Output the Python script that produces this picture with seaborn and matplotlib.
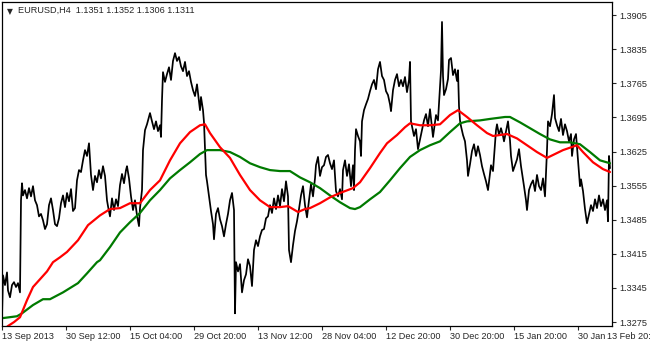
import matplotlib
matplotlib.use("Agg")
import matplotlib.pyplot as plt
import seaborn as sns
import pandas as pd

# ---- data ----
bar_idx = [2, 3, 5, 7, 8, 10, 12, 14, 16, 18, 20, 21, 22, 23, 25, 27, 29, 31, 33, 35, 37, 39, 41, 43, 45, 47, 49, 51, 53, 55, 57, 59, 61, 63, 65, 67, 69, 71, 73, 75, 77, 79, 81, 83, 85, 87, 89, 91, 93, 95, 97, 99, 101, 103,
           105, 107, 108, 110, 112, 114, 116, 118, 120, 122, 124, 126, 127, 129, 131, 133, 135, 137, 139, 140, 142, 143, 145, 147, 150, 152, 154, 156, 158, 160, 161, 162, 163, 165, 167, 169, 171, 173, 175, 177, 179, 181, 183, 185, 187, 189, 191, 193, 195, 197, 199, 200,
           201, 203, 204, 205, 206, 207, 209, 211, 213, 214, 216, 218, 220, 222, 224, 226, 228, 230, 232, 234, 235, 236, 238, 240, 242, 244, 246, 248, 250, 252, 254, 256, 258, 260, 262, 264, 266, 268, 270, 272, 274, 276, 278, 280, 282, 284, 286, 288, 289, 291, 293, 295, 297, 299,
           301, 303, 305, 307, 309, 311, 313, 315, 316, 318, 320, 322, 324, 326, 328, 330, 332, 334, 336, 338, 340, 342, 343, 345, 347, 349, 351, 353, 354, 355, 356, 358, 360, 361, 362, 364, 366, 368, 370, 372, 374, 376, 378, 380, 382, 384, 386, 388, 390, 391, 393, 395, 397, 399,
           401, 403, 405, 407, 409, 410, 411, 412, 414, 416, 418, 420, 422, 424, 426, 428, 430, 432, 433, 436, 438, 440, 441, 442, 443, 444, 446, 448, 449, 451, 453, 455, 457, 458, 459, 460, 461, 463, 465, 467, 468, 470, 472, 474, 476, 478, 480, 482, 484, 486, 488, 490, 491, 493, 496, 497, 499,
           501, 503, 504, 506, 508, 510, 511, 513, 515, 517, 519, 521, 524, 526, 527, 529, 531, 533, 535, 537, 539, 541, 543, 545, 547, 548, 550, 552, 554, 555, 557, 559, 561, 563, 565, 567, 569, 571, 572, 574, 576, 578, 580, 581, 583, 585, 587, 589, 591, 593, 595, 597, 599,
           601, 603, 605, 607, 608, 609, 610]
close = [1.3285, 1.3371, 1.3351, 1.3377, 1.3340, 1.3326, 1.3351, 1.3357, 1.3347, 1.3355, 1.3336, 1.3525, 1.3560, 1.3535, 1.3546, 1.3529, 1.3550, 1.3533, 1.3554, 1.3525, 1.3515, 1.3492, 1.3497, 1.3484, 1.3466, 1.3476, 1.3515, 1.3529, 1.3505, 1.3476, 1.3472, 1.3488, 1.3519, 1.3535, 1.3511, 1.3540, 1.3523, 1.3548, 1.3503, 1.3509, 1.3566, 1.3587, 1.3583, 1.3607, 1.3628, 1.3616, 1.3642, 1.3577, 1.3546, 1.3575, 1.3562, 1.3587, 1.3570, 1.3595,
         1.3575, 1.3525, 1.3513, 1.3492, 1.3529, 1.3505, 1.3527, 1.3513, 1.3556, 1.3579, 1.3560, 1.3587, 1.3595, 1.3570, 1.3533, 1.3505, 1.3525, 1.3494, 1.3472, 1.3509, 1.3546, 1.3628, 1.3669, 1.3681, 1.3704, 1.3687, 1.3671, 1.3687, 1.3667, 1.3679, 1.3655, 1.3731, 1.3788, 1.3768, 1.3784, 1.3798, 1.3772, 1.3811, 1.3827, 1.3811, 1.3819, 1.3800, 1.3790, 1.3809, 1.3780, 1.3790, 1.3768, 1.3751, 1.3739, 1.3763, 1.3728, 1.3710,
         1.3737, 1.3710, 1.3685, 1.3628, 1.3577, 1.3564, 1.3533, 1.3503, 1.3476, 1.3445, 1.3497, 1.3509, 1.3486, 1.3472, 1.3451, 1.3476, 1.3497, 1.3525, 1.3540, 1.3505, 1.3293, 1.3398, 1.3379, 1.3394, 1.3336, 1.3361, 1.3373, 1.3404, 1.3390, 1.3349, 1.3423, 1.3443, 1.3431, 1.3451, 1.3464, 1.3466, 1.3488, 1.3492, 1.3515, 1.3499, 1.3529, 1.3507, 1.3535, 1.3513, 1.3548, 1.3523, 1.3564, 1.3533, 1.3423, 1.3398, 1.3433, 1.3462, 1.3482, 1.3507,
         1.3535, 1.3554, 1.3515, 1.3490, 1.3525, 1.3558, 1.3533, 1.3570, 1.3597, 1.3614, 1.3575, 1.3593, 1.3597, 1.3614, 1.3618, 1.3601, 1.3589, 1.3607, 1.3544, 1.3533, 1.3548, 1.3527, 1.3587, 1.3607, 1.3575, 1.3599, 1.3554, 1.3597, 1.3546, 1.3628, 1.3671, 1.3657, 1.3646, 1.3616, 1.3687, 1.3710, 1.3722, 1.3733, 1.3749, 1.3763, 1.3772, 1.3753, 1.3794, 1.3809, 1.3780, 1.3772, 1.3749, 1.3741, 1.3722, 1.3708, 1.3751, 1.3772, 1.3784, 1.3759,
         1.3772, 1.3759, 1.3778, 1.3747, 1.3772, 1.3809, 1.3687, 1.3677, 1.3657, 1.3671, 1.3630, 1.3650, 1.3671, 1.3689, 1.3702, 1.3677, 1.3712, 1.3673, 1.3655, 1.3700, 1.3689, 1.3759, 1.3792, 1.3891, 1.3780, 1.3741, 1.3753, 1.3774, 1.3813, 1.3817, 1.3782, 1.3794, 1.3770, 1.3792, 1.3718, 1.3689, 1.3677, 1.3659, 1.3646, 1.3607, 1.3575, 1.3599, 1.3626, 1.3640, 1.3616, 1.3636, 1.3618, 1.3595, 1.3579, 1.3564, 1.3546, 1.3579, 1.3597, 1.3585, 1.3669, 1.3681, 1.3659,
         1.3673, 1.3657, 1.3646, 1.3667, 1.3687, 1.3648, 1.3616, 1.3585, 1.3597, 1.3609, 1.3630, 1.3595, 1.3554, 1.3525, 1.3505, 1.3546, 1.3558, 1.3566, 1.3544, 1.3577, 1.3554, 1.3546, 1.3570, 1.3533, 1.3628, 1.3687, 1.3677, 1.3702, 1.3741, 1.3694, 1.3679, 1.3667, 1.3692, 1.3659, 1.3681, 1.3667, 1.3646, 1.3661, 1.3616, 1.3650, 1.3661, 1.3607, 1.3554, 1.3568, 1.3544, 1.3507, 1.3478, 1.3497, 1.3515, 1.3503, 1.3527, 1.3509, 1.3535,
         1.3513, 1.3527, 1.3505, 1.3525, 1.3482, 1.3616, 1.3591]

red_idx = [2, 8, 14, 20, 27, 33, 40, 47, 53, 60, 67, 78, 88, 100, 110, 120, 130, 140, 150, 160, 170, 180, 190, 200, 205, 210, 220, 230, 240, 250, 260, 270, 280, 288, 298, 305, 310, 320, 330, 340, 353, 360, 370, 380, 387, 397, 405, 410, 420, 430, 440, 450, 458, 467, 477, 487, 493, 500, 507, 517, 527, 537, 547, 553, 563, 577, 583, 593, 603, 610]
red_ma = [1.3256, 1.3267, 1.3275, 1.3285, 1.3320, 1.3347, 1.3363, 1.3379, 1.3398, 1.3408, 1.3419, 1.3443, 1.3474, 1.3494, 1.3507, 1.3509, 1.3519, 1.3519, 1.3546, 1.3566, 1.3607, 1.3642, 1.3665, 1.3679, 1.3681, 1.3663, 1.3634, 1.3612, 1.3577, 1.3546, 1.3525, 1.3511, 1.3511, 1.3513, 1.3501, 1.3507, 1.3509, 1.3519, 1.3531, 1.3540, 1.3550, 1.3562, 1.3591, 1.3622, 1.3642, 1.3659, 1.3675, 1.3683, 1.3679, 1.3679, 1.3681, 1.3700, 1.3710, 1.3696, 1.3679, 1.3663, 1.3657, 1.3659, 1.3661, 1.3652, 1.3638, 1.3624, 1.3612, 1.3618, 1.3628, 1.3638, 1.3624, 1.3603, 1.3589, 1.3583]

green_idx = [2, 17, 22, 33, 43, 50, 63, 78, 87, 97, 100, 110, 120, 130, 140, 150, 160, 170, 180, 190, 200, 207, 220, 230, 240, 250, 260, 270, 280, 290, 300, 310, 320, 330, 340, 350, 355, 360, 370, 380, 390, 400, 410, 420, 430, 440, 450, 460, 467, 480, 490, 505, 510, 520, 530, 540, 550, 560, 570, 580, 590, 600, 610]
green_ma = [1.3283, 1.3287, 1.3293, 1.3310, 1.3322, 1.3322, 1.3336, 1.3355, 1.3375, 1.3398, 1.3402, 1.3429, 1.3459, 1.3480, 1.3499, 1.3525, 1.3546, 1.3570, 1.3587, 1.3603, 1.3620, 1.3628, 1.3628, 1.3624, 1.3614, 1.3601, 1.3593, 1.3587, 1.3585, 1.3585, 1.3572, 1.3562, 1.3550, 1.3535, 1.3521, 1.3509, 1.3507, 1.3511, 1.3527, 1.3542, 1.3566, 1.3591, 1.3614, 1.3628, 1.3638, 1.3646, 1.3665, 1.3683, 1.3687, 1.3689, 1.3692, 1.3696, 1.3696, 1.3685, 1.3673, 1.3661, 1.3650, 1.3644, 1.3644, 1.3640, 1.3624, 1.3607, 1.3601]

y_ticks = [1.3275, 1.3345, 1.3415, 1.3485, 1.3555, 1.3625, 1.3695, 1.3765, 1.3835, 1.3905]
x_tick_pos = [2, 66, 130, 194, 258, 322, 386, 450, 514, 578]
x_tick_labels = ["13 Sep 2013", "30 Sep 12:00", "15 Oct 04:00", "29 Oct 20:00", "13 Nov 12:00",
                 "28 Nov 04:00", "12 Dec 20:00", "30 Dec 20:00", "15 Jan 20:00", "30 Jan 20:00"]
last_label = "13 Feb 20:00"
last_label_pos = 607
title_text = "EURUSD,H4  1.1351 1.1352 1.1306 1.1311"

# ---- plot ----
sns.set_style("white")
plt.rcParams['font.family'] = ['Liberation Sans', 'DejaVu Sans']
FS = 6.6
TICK_LEN = 3
TICK_PAD = 1.2

fig = plt.figure(figsize=(6.5, 3.44), dpi=100)
ax = fig.add_axes([2 / 650, 18 / 344, 610 / 650, 324 / 344])

price_df = pd.DataFrame({"bar": bar_idx, "close": close})
red_df = pd.DataFrame({"bar": red_idx, "ma": red_ma})
green_df = pd.DataFrame({"bar": green_idx, "ma": green_ma})

sns.lineplot(data=price_df, x="bar", y="close", ax=ax, color="black", lw=1.25,
             estimator=None, sort=False)
sns.lineplot(data=green_df, x="bar", y="ma", ax=ax, color="#007a00", lw=1.6,
             estimator=None, sort=False)
sns.lineplot(data=red_df, x="bar", y="ma", ax=ax, color="#ff0000", lw=1.6,
             estimator=None, sort=False)

ax.set_xlim(2, 612)
ax.set_ylim(1.3267, 1.3932)
ax.set_xlabel("")
ax.set_ylabel("")

for s in ax.spines.values():
    s.set_color("black")
    s.set_linewidth(0.9)

ax.yaxis.tick_right()
ax.set_yticks(y_ticks)
ax.set_yticklabels([f"{v:.4f}" for v in y_ticks], fontsize=FS)
ax.tick_params(axis="y", direction="out", length=3, width=0.8, pad=2, right=True, left=False,
               labelright=True, labelleft=False)

ax.set_xticks(x_tick_pos)
ax.set_xticklabels(x_tick_labels, fontsize=FS, ha="left")
ax.tick_params(axis="x", direction="out", length=TICK_LEN, width=0.8, pad=TICK_PAD, bottom=True)

# last (overlapping) time label, drawn with white background as in the terminal
ax.annotate(last_label, xy=(last_label_pos, 0), xycoords=ax.get_xaxis_transform(),
            xytext=(0, -(TICK_LEN + TICK_PAD)), textcoords="offset points",
            fontsize=FS, ha="left", va="top", annotation_clip=False,
            bbox=dict(facecolor="white", edgecolor="none", pad=0.5))

ax.text(0.008, 0.985, "\u25BC", transform=ax.transAxes, fontsize=5.5, va="top", ha="left",
        family=["DejaVu Sans"])
ax.text(0.027, 0.988, title_text, transform=ax.transAxes, fontsize=FS, va="top", ha="left")

fig.savefig("out.png", dpi=100)
